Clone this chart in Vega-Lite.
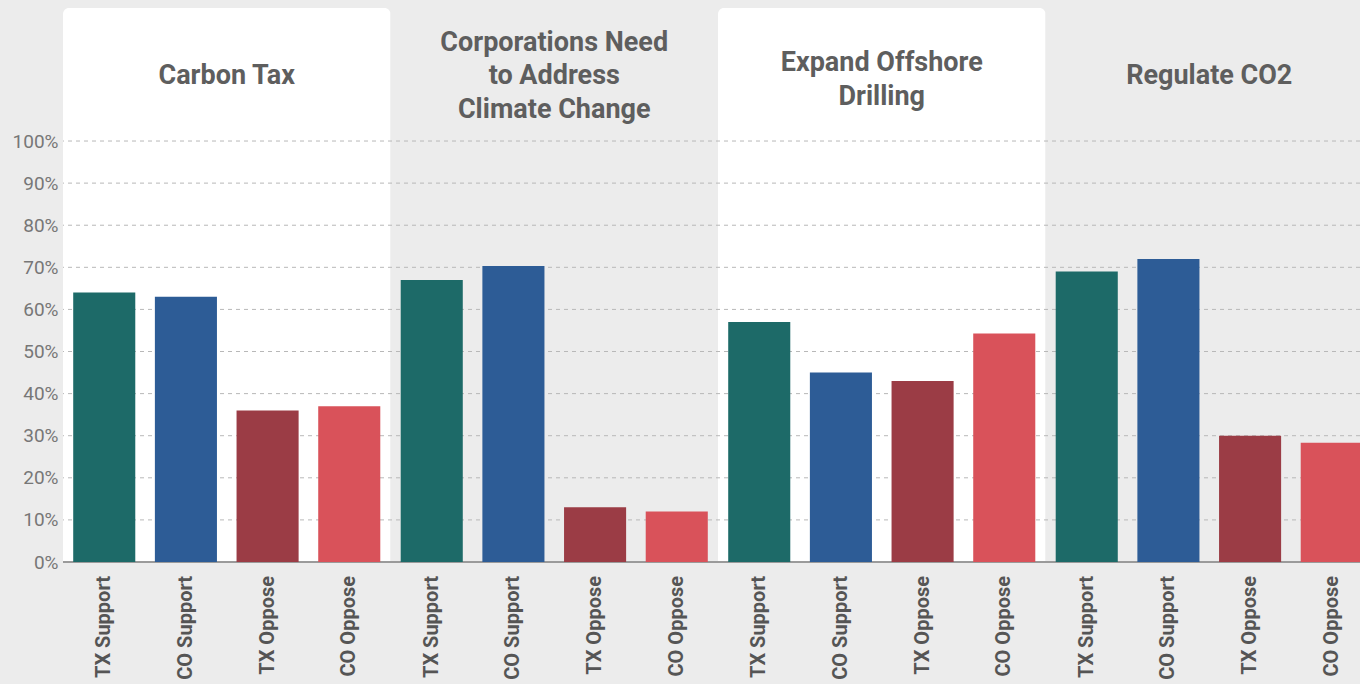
{
  "$schema": "https://vega.github.io/schema/vega-lite/v6.json",
  "autosize": {"type": "none"},
  "width": 1297,
  "height": 562,
  "padding": {"left": 63, "top": 0, "right": 0, "bottom": 122},
  "background": "#ececec",
  "config": {"view": {"stroke": null}},
  "datasets": {
    "topics": [
      {"topic": "Carbon Tax", "title": "Carbon Tax", "panel": "white"},
      {"topic": "Corporations", "title": "Corporations Need\nto Address\nClimate Change", "panel": "gray"},
      {"topic": "Offshore", "title": "Expand Offshore\nDrilling", "panel": "white"},
      {"topic": "Regulate CO2", "title": "Regulate CO2", "panel": "gray"}
    ],
    "bars": [
      {"topic": "Carbon Tax", "group": "TX Support", "value": 64},
      {"topic": "Carbon Tax", "group": "CO Support", "value": 63},
      {"topic": "Carbon Tax", "group": "TX Oppose", "value": 36},
      {"topic": "Carbon Tax", "group": "CO Oppose", "value": 37},
      {"topic": "Corporations", "group": "TX Support", "value": 67},
      {"topic": "Corporations", "group": "CO Support", "value": 70.3},
      {"topic": "Corporations", "group": "TX Oppose", "value": 13},
      {"topic": "Corporations", "group": "CO Oppose", "value": 12},
      {"topic": "Offshore", "group": "TX Support", "value": 57},
      {"topic": "Offshore", "group": "CO Support", "value": 45},
      {"topic": "Offshore", "group": "TX Oppose", "value": 43},
      {"topic": "Offshore", "group": "CO Oppose", "value": 54.3},
      {"topic": "Regulate CO2", "group": "TX Support", "value": 69},
      {"topic": "Regulate CO2", "group": "CO Support", "value": 72},
      {"topic": "Regulate CO2", "group": "TX Oppose", "value": 30},
      {"topic": "Regulate CO2", "group": "CO Oppose", "value": 28.3}
    ],
    "grid": [
      {"v": 10}, {"v": 20}, {"v": 30}, {"v": 40}, {"v": 50},
      {"v": 60}, {"v": 70}, {"v": 80}, {"v": 90}, {"v": 100}
    ]
  },
  "encoding": {
    "x": {
      "field": "topic",
      "type": "nominal",
      "sort": ["Carbon Tax", "Corporations", "Offshore", "Regulate CO2"],
      "scale": {"paddingInner": 0, "paddingOuter": 0, "range": [0, 1310]},
      "axis": null
    }
  },
  "layer": [
    {
      "data": {"name": "topics"},
      "mark": {"type": "bar", "cornerRadiusTopLeft": 6, "cornerRadiusTopRight": 6},
      "encoding": {
        "y": {"datum": 0, "type": "quantitative", "scale": {"domain": [0, 133.5], "nice": false, "zero": true},
          "axis": {"values": [0, 10, 20, 30, 40, 50, 60, 70, 80, 90, 100], "labelExpr": "datum.value + '%'", "grid": false, "domain": false, "ticks": false, "labelPadding": 5, "labelFontSize": 19, "labelFont": "Roboto", "labelColor": "#777777", "title": null}},
        "y2": {"datum": 131.6},
        "fill": {"condition": {"test": "datum.panel === 'white'", "value": "#ffffff"}, "value": "#ececec"}
      }
    },
    {
      "data": {"name": "grid"},
      "mark": {"type": "rule", "strokeDash": [4, 4], "color": "#b8b8b8", "strokeWidth": 1},
      "encoding": {"y": {"field": "v", "type": "quantitative"}, "x": null}
    },
    {
      "data": {"name": "grid"},
      "mark": {"type": "rule", "color": "#9a9a9a", "strokeWidth": 1},
      "encoding": {"y": {"datum": 0, "type": "quantitative"}, "x": null}
    },
    {
      "data": {"name": "bars"},
      "mark": {"type": "bar"},
      "encoding": {
        "xOffset": {"field": "group", "type": "nominal", "sort": ["TX Support", "CO Support", "TX Oppose", "CO Oppose"], "scale": {"paddingInner": 0.24, "paddingOuter": 0.125}},
        "y": {"field": "value", "type": "quantitative"},
        "color": {"field": "group", "type": "nominal", "legend": null,
          "scale": {"domain": ["TX Support", "CO Support", "TX Oppose", "CO Oppose"], "range": ["#1d6a68", "#2d5c96", "#9b3c45", "#d9525a"]}}
      }
    },
    {
      "data": {"name": "bars"},
      "mark": {"type": "text", "angle": 270, "align": "right", "baseline": "middle", "dx": -14, "font": "Roboto", "fontWeight": "bold", "fontSize": 20, "color": "#555555"},
      "encoding": {
        "xOffset": {"field": "group", "type": "nominal", "sort": ["TX Support", "CO Support", "TX Oppose", "CO Oppose"]},
        "y": {"datum": 0, "type": "quantitative"},
        "text": {"field": "group"}
      }
    },
    {
      "data": {"name": "topics"},
      "transform": [{"filter": "datum.topic === 'Carbon Tax' || datum.topic === 'Regulate CO2'"}],
      "mark": {"type": "text", "lineBreak": "\n", "lineHeight": 33.5, "align": "center", "baseline": "middle", "font": "Roboto", "fontWeight": "bold", "fontSize": 27, "letterSpacing": 1.2, "color": "#5e5e5e"},
      "encoding": {
        "y": {"datum": 115.4, "type": "quantitative"},
        "text": {"field": "title"}
      }
    },
    {
      "data": {"name": "topics"},
      "transform": [{"filter": "datum.topic === 'Offshore'"}],
      "mark": {"type": "text", "lineBreak": "\n", "lineHeight": 33.5, "align": "center", "baseline": "middle", "font": "Roboto", "fontWeight": "bold", "fontSize": 27, "letterSpacing": 1.2, "color": "#5e5e5e"},
      "encoding": {
        "y": {"datum": 118.5, "type": "quantitative"},
        "text": {"field": "title"}
      }
    },
    {
      "data": {"name": "topics"},
      "transform": [{"filter": "datum.topic === 'Corporations'"}],
      "mark": {"type": "text", "lineBreak": "\n", "lineHeight": 33.5, "align": "center", "baseline": "middle", "font": "Roboto", "fontWeight": "bold", "fontSize": 27, "letterSpacing": 1.2, "color": "#5e5e5e"},
      "encoding": {
        "y": {"datum": 123.3, "type": "quantitative"},
        "text": {"field": "title"}
      }
    }
  ]
}
